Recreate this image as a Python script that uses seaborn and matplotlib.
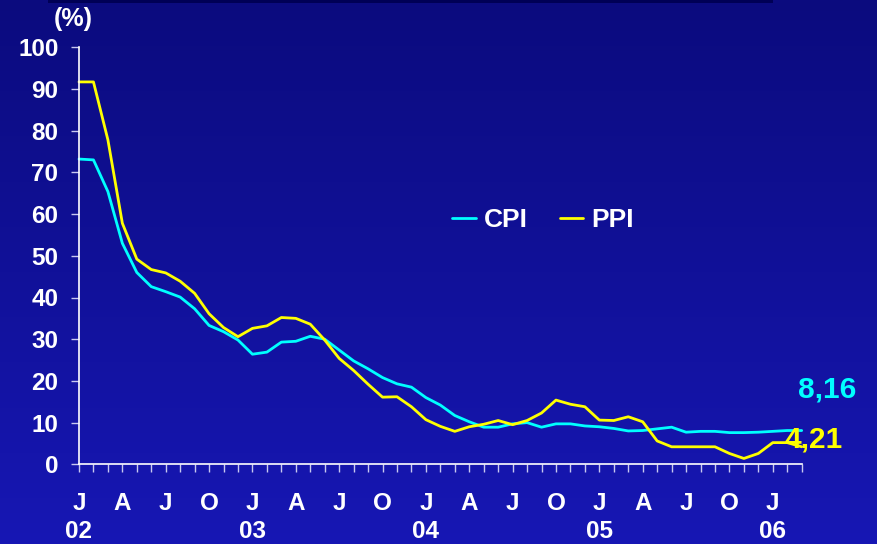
import matplotlib
matplotlib.use("Agg")
import matplotlib.pyplot as plt
from matplotlib.colors import LinearSegmentedColormap
from matplotlib.patches import Rectangle
import numpy as np
import pandas as pd
import seaborn as sns

# monthly inflation, Jan 2002 .. Mar 2006 (%)
cpi = [73.2, 73.0, 65.4, 53.0, 46.0, 42.6, 41.4, 40.1, 37.3, 33.3,
       31.8, 29.8, 26.4, 26.9, 29.3, 29.5, 30.7, 30.0, 27.4, 24.8,
       22.9, 20.8, 19.3, 18.5, 16.0, 14.2, 11.7, 10.2, 8.9, 8.9,
       9.7, 10.0, 8.9, 9.7, 9.7, 9.2, 9.0, 8.6, 8.0, 8.1,
       8.5, 8.9, 7.7, 7.9, 7.9, 7.6, 7.6, 7.7, 7.9, 8.1, 8.1]
ppi = [91.7, 91.7, 77.8, 57.8, 49.2, 46.7, 45.9, 43.9, 41.0, 36.1,
       32.8, 30.6, 32.6, 33.2, 35.2, 35.0, 33.6, 29.8, 25.4, 22.5,
       19.2, 16.1, 16.2, 13.8, 10.7, 9.1, 7.9, 9.0, 9.6, 10.5,
       9.5, 10.5, 12.3, 15.4, 14.4, 13.8, 10.6, 10.5, 11.4, 10.2,
       5.6, 4.2, 4.2, 4.2, 4.2, 2.6, 1.4, 2.6, 5.2, 5.2, 4.2]
quarter_letters = ["J", "A", "J", "O"]
years = ["02", "03", "04", "05", "06"]
cpi_last_label = "8,16"
ppi_last_label = "4,21"

months = np.arange(len(cpi))
df = pd.DataFrame({
    "month": np.concatenate([months, months]),
    "value": cpi + ppi,
    "series": ["CPI"] * len(cpi) + ["PPI"] * len(ppi),
})

sns.set_style("ticks")
plt.rcParams["font.family"] = ["Liberation Sans", "DejaVu Sans"]
plt.rcParams["font.weight"] = "bold"

W, H = 878, 544
fig = plt.figure(figsize=(W / 100, H / 100), dpi=100)

# gradient background
bg = fig.add_axes([0, 0, 1, 1], zorder=-10)
grad = np.linspace(0, 1, 256).reshape(-1, 1)
cmap = LinearSegmentedColormap.from_list("bg", ["#0b0b7e", "#1717b4"])
bg.imshow(grad, aspect="auto", cmap=cmap, extent=[0, 1, 0, 1], origin="upper")
bg.axis("off")
fig.add_artist(Rectangle((47.6 / W, 1 - 3 / H), (772.7 - 47.6) / W, 3 / H,
                         transform=fig.transFigure, color="#000055", lw=0))

ax = fig.add_axes([79 / W, 1 - 464.3 / H, (801.7 - 79) / W, (464.3 - 47.3) / H])
ax.set_facecolor("none")
sns.lineplot(data=df, x="month", y="value", hue="series",
             palette={"CPI": "#00ffff", "PPI": "#ffff00"},
             linewidth=2, ax=ax)
for ln in ax.get_lines():
    ln.set_clip_on(False)

ax.set_xlim(0, 50)
ax.set_ylim(0, 100)
ax.set_yticks(range(0, 101, 10))
xlabels = []
for m in months:
    if m % 3 == 0:
        lab = quarter_letters[(m % 12) // 3]
        if m % 12 == 0:
            lab += "\n" + years[m // 12]
        xlabels.append(lab)
    else:
        xlabels.append("")
ax.set_xticks(months)
ax.set_xticklabels(xlabels)
for t in ax.get_xticklabels():
    t.set_linespacing(1.3)
ax.set_xlabel("")
ax.set_ylabel("")

for side in ["top", "right"]:
    ax.spines[side].set_visible(False)
for side in ["left", "bottom"]:
    ax.spines[side].set_color("white")
    ax.spines[side].set_linewidth(1.2)
ax.tick_params(axis="both", colors="#c8c8f0", labelcolor="white",
               length=5.8, width=1)
ax.tick_params(axis="y", labelsize=17.5, pad=9)
ax.tick_params(axis="x", labelsize=17.5, pad=14)

handles, labels = ax.get_legend_handles_labels()
ax.legend(handles, labels, loc="center",
          bbox_to_anchor=(543 / W, 1 - 220 / H), bbox_transform=fig.transFigure,
          ncol=2, frameon=False, fontsize=19, handlelength=0.9,
          handletextpad=0.3, columnspacing=1.2, labelcolor="white")

ax.annotate(cpi_last_label, xy=(months[-1], cpi[-1]), xytext=(25, 41),
            textcoords="offset pixels", ha="center", va="center",
            color="#00ffff", fontsize=21.5, fontweight="bold")
ax.annotate(ppi_last_label, xy=(months[-1], ppi[-1]), xytext=(12, 7),
            textcoords="offset pixels", ha="center", va="center",
            color="#ffff00", fontsize=21.5, fontweight="bold")

fig.text(73.5 / W, 1 - 19 / H, "(%)", ha="center", va="center",
         color="white", fontsize=18, fontweight="bold")

fig.savefig("out.png", dpi=100)
